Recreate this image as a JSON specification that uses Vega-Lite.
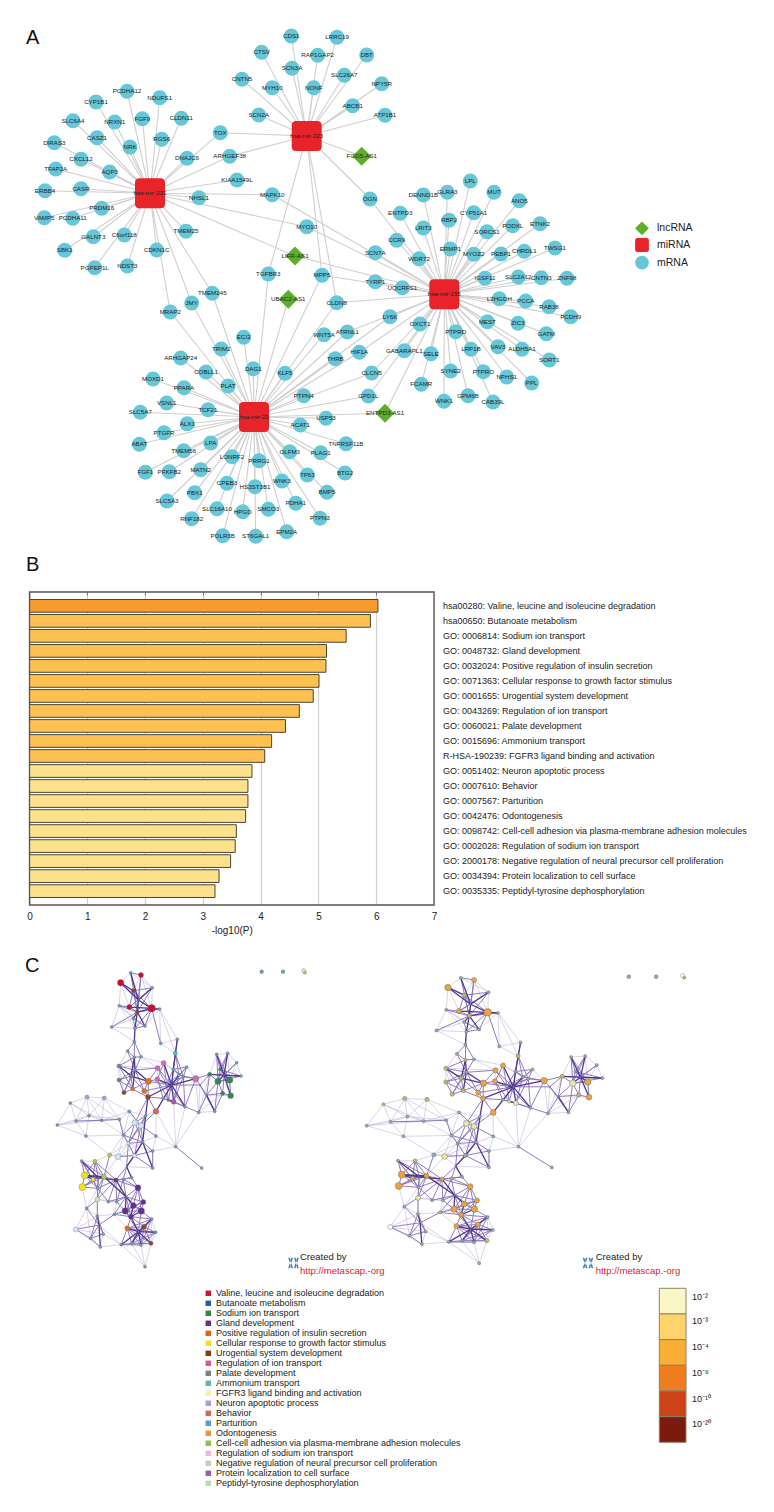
{
"$schema":"https://vega.github.io/schema/vega-lite/v6.json",
"padding":0,
"background":"white",
"bounds":"flush",
"spacing":0,
"config":{"view":{"stroke":null},"concat":{"spacing":0}},
"resolve":{"scale":{"color":"independent","size":"independent","shape":"independent","strokeWidth":"independent"}},
"datasets":{
"nodes":[
{"name":"hsa-mir-223","code":"223","x":306.7,"y":136,"type":"miRNA","h":[]},
{"name":"hsa-mir-221","code":"221","x":150,"y":193.3,"type":"miRNA","h":[]},
{"name":"hsa-mir-155","code":"155","x":444.3,"y":294.3,"type":"miRNA","h":[]},
{"name":"hsa-mir-21","code":"21","x":254,"y":417,"type":"miRNA","h":[]},
{"name":"FGD5-AS1","x":361.7,"y":156.3,"type":"lncRNA","h":["223"]},
{"name":"LIFR-AS1","x":295,"y":256,"type":"lncRNA","h":["221","155"]},
{"name":"UBAC2-AS1","x":288.3,"y":299.3,"type":"lncRNA","h":["21"]},
{"name":"ENTPD3-AS1","x":385,"y":413.3,"type":"lncRNA","h":["155","21"]},
{"name":"CDS1","x":291.3,"y":36,"type":"mRNA","h":["223"]},
{"name":"LRRC19","x":337,"y":37.3,"type":"mRNA","h":["223"]},
{"name":"CTSV","x":261.7,"y":52.3,"type":"mRNA","h":["223"]},
{"name":"RAP1GAP2","x":317.7,"y":55.3,"type":"mRNA","h":["223"]},
{"name":"DBT","x":366.7,"y":55,"type":"mRNA","h":["223"]},
{"name":"SCN3A","x":292,"y":68.3,"type":"mRNA","h":["223"]},
{"name":"SLC26A7","x":344.3,"y":75.3,"type":"mRNA","h":["223"]},
{"name":"NPY5R","x":381.7,"y":83.7,"type":"mRNA","h":["223"]},
{"name":"CNTN5","x":242,"y":79.3,"type":"mRNA","h":["223"]},
{"name":"MYH10","x":272.3,"y":87.7,"type":"mRNA","h":["223"]},
{"name":"NONF","x":313.7,"y":87.7,"type":"mRNA","h":["223"]},
{"name":"ABCB1","x":352.7,"y":105.7,"type":"mRNA","h":["223"]},
{"name":"ATP1B1","x":385,"y":115.3,"type":"mRNA","h":["223"]},
{"name":"SCN2A","x":258.7,"y":115,"type":"mRNA","h":["223"]},
{"name":"TOX","x":220.3,"y":132.7,"type":"mRNA","h":["223","221"]},
{"name":"ARHGEF38","x":229.7,"y":156.3,"type":"mRNA","h":["223","221"]},
{"name":"KIAA1549L","x":237,"y":180,"type":"mRNA","h":["221"]},
{"name":"OGN","x":370,"y":199,"type":"mRNA","h":["223","155"]},
{"name":"MAPK10","x":272.3,"y":194.7,"type":"mRNA","h":["221","155"]},
{"name":"NHSL1","x":199,"y":197.7,"type":"mRNA","h":["221"]},
{"name":"MYO10","x":306.7,"y":226.7,"type":"mRNA","h":["221","155"]},
{"name":"TGFBR3","x":268.3,"y":274,"type":"mRNA","h":["223","21"]},
{"name":"MPP5","x":322,"y":275.3,"type":"mRNA","h":["223","155","21"]},
{"name":"CLDN8","x":336.7,"y":302.7,"type":"mRNA","h":["223","155","21"]},
{"name":"SCN7A","x":375.3,"y":252.7,"type":"mRNA","h":["155"]},
{"name":"TYRP1","x":375.3,"y":281.7,"type":"mRNA","h":["155"]},
{"name":"PCDHA12","x":127,"y":91.3,"type":"mRNA","h":["221"]},
{"name":"NDUFS1","x":159.7,"y":97.7,"type":"mRNA","h":["221"]},
{"name":"CYP1B1","x":96,"y":102,"type":"mRNA","h":["221"]},
{"name":"FGF9","x":142.3,"y":118.7,"type":"mRNA","h":["221"]},
{"name":"CLDN11","x":181.3,"y":118.3,"type":"mRNA","h":["221"]},
{"name":"SLC6A4","x":73,"y":120.7,"type":"mRNA","h":["221"]},
{"name":"NRXN1","x":114.7,"y":122,"type":"mRNA","h":["221"]},
{"name":"CASZ1","x":97,"y":137.7,"type":"mRNA","h":["221"]},
{"name":"RGS6","x":161.7,"y":139.3,"type":"mRNA","h":["221"]},
{"name":"DIRAS3","x":54.3,"y":142.7,"type":"mRNA","h":["221"]},
{"name":"NRK","x":130,"y":147,"type":"mRNA","h":["221"]},
{"name":"DNAJC6","x":187,"y":158.3,"type":"mRNA","h":["221"]},
{"name":"CXCL12","x":81,"y":159.3,"type":"mRNA","h":["221"]},
{"name":"TFAP2A","x":55.7,"y":169,"type":"mRNA","h":["221"]},
{"name":"AQP3","x":109.7,"y":172,"type":"mRNA","h":["221"]},
{"name":"CASR","x":81,"y":188.7,"type":"mRNA","h":["221"]},
{"name":"ERBB4","x":45,"y":190.7,"type":"mRNA","h":["221"]},
{"name":"PRDM16","x":101.7,"y":208.3,"type":"mRNA","h":["221"]},
{"name":"VAMP5","x":44.3,"y":217.7,"type":"mRNA","h":["221"]},
{"name":"PCDHA11","x":72.7,"y":218.3,"type":"mRNA","h":["221"]},
{"name":"GALNT3","x":93.3,"y":236.7,"type":"mRNA","h":["221"]},
{"name":"C6orf118","x":124.3,"y":235,"type":"mRNA","h":["221"]},
{"name":"TMEM25","x":186,"y":231.3,"type":"mRNA","h":["221"]},
{"name":"CDKN1C","x":156.7,"y":250,"type":"mRNA","h":["221"]},
{"name":"SBK1","x":64.7,"y":250.3,"type":"mRNA","h":["221"]},
{"name":"PGPEP1L","x":94.7,"y":267.7,"type":"mRNA","h":["221"]},
{"name":"NDST3","x":127.3,"y":266,"type":"mRNA","h":["221"]},
{"name":"TMEM245","x":212.3,"y":293.3,"type":"mRNA","h":["221","21"]},
{"name":"JMY","x":191.7,"y":303,"type":"mRNA","h":["221","21"]},
{"name":"MRAP2","x":170.3,"y":312,"type":"mRNA","h":["221","21"]},
{"name":"LPL","x":470.3,"y":181,"type":"mRNA","h":["155"]},
{"name":"MUT","x":494,"y":192.3,"type":"mRNA","h":["155"]},
{"name":"GLRA3","x":447.3,"y":192.3,"type":"mRNA","h":["155"]},
{"name":"DENND1B","x":423.3,"y":195,"type":"mRNA","h":["155"]},
{"name":"ANO5","x":519.3,"y":200.7,"type":"mRNA","h":["155"]},
{"name":"ENTPD3","x":400.3,"y":213.3,"type":"mRNA","h":["155"]},
{"name":"CYP51A1","x":473.7,"y":212.7,"type":"mRNA","h":["155"]},
{"name":"RBP2","x":449,"y":220.3,"type":"mRNA","h":["155"]},
{"name":"ETNK2","x":540,"y":223.7,"type":"mRNA","h":["155"]},
{"name":"PODXL","x":512.7,"y":225.7,"type":"mRNA","h":["155"]},
{"name":"LRIT3","x":423.3,"y":228,"type":"mRNA","h":["155"]},
{"name":"SORCS1","x":487,"y":231.7,"type":"mRNA","h":["155"]},
{"name":"CCR9","x":396.7,"y":240.3,"type":"mRNA","h":["155"]},
{"name":"TWSG1","x":555,"y":248,"type":"mRNA","h":["155"]},
{"name":"ERMP1","x":450.3,"y":249,"type":"mRNA","h":["155"]},
{"name":"CHRDL1","x":524.3,"y":251.3,"type":"mRNA","h":["155"]},
{"name":"PEBP1","x":501,"y":254,"type":"mRNA","h":["155"]},
{"name":"MYOZ2","x":473.7,"y":254.3,"type":"mRNA","h":["155"]},
{"name":"WDR72","x":419,"y":258.7,"type":"mRNA","h":["155"]},
{"name":"IGSF11","x":485,"y":278.3,"type":"mRNA","h":["155"]},
{"name":"SLC2A12","x":518.3,"y":277,"type":"mRNA","h":["155"]},
{"name":"CNTN3","x":541.3,"y":277.7,"type":"mRNA","h":["155"]},
{"name":"ZNF98","x":567,"y":278.3,"type":"mRNA","h":["155"]},
{"name":"UQCRFS1","x":402.3,"y":287.7,"type":"mRNA","h":["155"]},
{"name":"L2HGDH","x":499.3,"y":298.7,"type":"mRNA","h":["155"]},
{"name":"PCCA","x":525.7,"y":301,"type":"mRNA","h":["155"]},
{"name":"RAB38","x":549,"y":306.7,"type":"mRNA","h":["155"]},
{"name":"PCDH9","x":570.7,"y":316.7,"type":"mRNA","h":["155"]},
{"name":"MEST","x":487.3,"y":321.7,"type":"mRNA","h":["155"]},
{"name":"ZIC3","x":518,"y":323.3,"type":"mRNA","h":["155"]},
{"name":"GATM","x":546.3,"y":333.7,"type":"mRNA","h":["155"]},
{"name":"LY6K","x":390,"y":316.7,"type":"mRNA","h":["155","21"]},
{"name":"OXCT1","x":420,"y":324,"type":"mRNA","h":["155"]},
{"name":"PTPRD","x":455.7,"y":331.7,"type":"mRNA","h":["155"]},
{"name":"ATRNL1","x":347.3,"y":332,"type":"mRNA","h":["155","21"]},
{"name":"ALDH5A1","x":522,"y":349.3,"type":"mRNA","h":["155"]},
{"name":"VAV3","x":498,"y":346.7,"type":"mRNA","h":["155"]},
{"name":"LRP1B","x":471,"y":349.3,"type":"mRNA","h":["155"]},
{"name":"SORT1","x":549.3,"y":360,"type":"mRNA","h":["155"]},
{"name":"HIF1A","x":359.3,"y":352.3,"type":"mRNA","h":["155","21"]},
{"name":"GABARAPL1","x":404.3,"y":350.7,"type":"mRNA","h":["155"]},
{"name":"SELE","x":431,"y":353.7,"type":"mRNA","h":["155"]},
{"name":"SYNE2","x":450.7,"y":371,"type":"mRNA","h":["155"]},
{"name":"PTPRO","x":483.3,"y":371.7,"type":"mRNA","h":["155"]},
{"name":"NPHS1","x":506.7,"y":377,"type":"mRNA","h":["155"]},
{"name":"PPL","x":531.7,"y":383,"type":"mRNA","h":["155"]},
{"name":"CLCN5","x":371.7,"y":373,"type":"mRNA","h":["155","21"]},
{"name":"FCAMR","x":421.3,"y":384.3,"type":"mRNA","h":["155"]},
{"name":"GPD1L","x":368.3,"y":396,"type":"mRNA","h":["155","21"]},
{"name":"GPM6B","x":468,"y":395.7,"type":"mRNA","h":["155"]},
{"name":"WNK1","x":444,"y":401.3,"type":"mRNA","h":["155"]},
{"name":"CAB39L","x":493,"y":402,"type":"mRNA","h":["155"]},
{"name":"WNT5A","x":324,"y":334.7,"type":"mRNA","h":["21"]},
{"name":"THRB","x":335.3,"y":358.7,"type":"mRNA","h":["21"]},
{"name":"KLF5","x":285,"y":373.3,"type":"mRNA","h":["21"]},
{"name":"ECI2","x":243.7,"y":337.3,"type":"mRNA","h":["21"]},
{"name":"TRIM2","x":221.3,"y":349,"type":"mRNA","h":["21"]},
{"name":"ARHGAP24","x":180.7,"y":358,"type":"mRNA","h":["21"]},
{"name":"DAG1","x":253.3,"y":368.7,"type":"mRNA","h":["21"]},
{"name":"COBLL1","x":206,"y":372,"type":"mRNA","h":["21"]},
{"name":"MOXD1","x":153,"y":379,"type":"mRNA","h":["21"]},
{"name":"PPARA","x":184,"y":387.7,"type":"mRNA","h":["21"]},
{"name":"PLAT","x":228,"y":386,"type":"mRNA","h":["21"]},
{"name":"PTPN4","x":303.7,"y":395.7,"type":"mRNA","h":["21"]},
{"name":"VSNL1","x":166.7,"y":403,"type":"mRNA","h":["21"]},
{"name":"TCF21","x":208,"y":409.7,"type":"mRNA","h":["21"]},
{"name":"SLC5A7","x":140.3,"y":412.3,"type":"mRNA","h":["21"]},
{"name":"ALX1","x":187.3,"y":423.7,"type":"mRNA","h":["21"]},
{"name":"USP53","x":326,"y":418.3,"type":"mRNA","h":["21"]},
{"name":"ACAT1","x":300.3,"y":425,"type":"mRNA","h":["21"]},
{"name":"PTGFR","x":164,"y":432.7,"type":"mRNA","h":["21"]},
{"name":"ABAT","x":139.3,"y":444.3,"type":"mRNA","h":["21"]},
{"name":"LPA","x":210.7,"y":443,"type":"mRNA","h":["21"]},
{"name":"TNFRSF11B","x":346,"y":443.7,"type":"mRNA","h":["21"]},
{"name":"TMEM56","x":183.7,"y":450.7,"type":"mRNA","h":["21"]},
{"name":"OLFM3","x":289.7,"y":451.7,"type":"mRNA","h":["21"]},
{"name":"PLAG1","x":320.7,"y":452.7,"type":"mRNA","h":["21"]},
{"name":"LONRF2","x":232,"y":456.7,"type":"mRNA","h":["21"]},
{"name":"PRRG1","x":259,"y":460.7,"type":"mRNA","h":["21"]},
{"name":"FGF1","x":145.3,"y":472.3,"type":"mRNA","h":["21"]},
{"name":"PFKFB2","x":169.3,"y":471.7,"type":"mRNA","h":["21"]},
{"name":"MATN2","x":200.7,"y":469.7,"type":"mRNA","h":["21"]},
{"name":"TP63","x":307.3,"y":475,"type":"mRNA","h":["21"]},
{"name":"BTG2","x":345,"y":473,"type":"mRNA","h":["21"]},
{"name":"WNK3","x":282,"y":481,"type":"mRNA","h":["21"]},
{"name":"CPEB3","x":227,"y":483.3,"type":"mRNA","h":["21"]},
{"name":"HS3ST3B1","x":255,"y":486.7,"type":"mRNA","h":["21"]},
{"name":"PBX1","x":194.7,"y":492.7,"type":"mRNA","h":["21"]},
{"name":"BMP5","x":327,"y":492.3,"type":"mRNA","h":["21"]},
{"name":"SLC5A3","x":167,"y":501,"type":"mRNA","h":["21"]},
{"name":"PDHA1","x":295.7,"y":503.3,"type":"mRNA","h":["21"]},
{"name":"SLC16A10","x":217,"y":508.7,"type":"mRNA","h":["21"]},
{"name":"SMCO3","x":268.3,"y":509.3,"type":"mRNA","h":["21"]},
{"name":"HPGD","x":242.7,"y":511.7,"type":"mRNA","h":["21"]},
{"name":"RNF182","x":191.7,"y":518.7,"type":"mRNA","h":["21"]},
{"name":"PTPN3","x":320,"y":518.3,"type":"mRNA","h":["21"]},
{"name":"EPM2A","x":286.7,"y":531.7,"type":"mRNA","h":["21"]},
{"name":"POLR3B","x":222.7,"y":535.7,"type":"mRNA","h":["21"]},
{"name":"ST6GAL1","x":255.7,"y":536.3,"type":"mRNA","h":["21"]}
],
"keyA":[
{"type":"lncRNA","x":642,"y":228.3},
{"type":"miRNA","x":642,"y":245},
{"type":"mRNA","x":642,"y":262.7}
],
"letters":[
{"label":"A","x":32.7,"y":38.3},
{"label":"B","x":32.7,"y":565}
],
"terms":[
{"term":"hsa00280: Valine, leucine and isoleucine degradation","logp":6.03,"cls":"1e-6"},
{"term":"hsa00650: Butanoate metabolism","logp":5.9,"cls":"1e-4"},
{"term":"GO: 0006814: Sodium ion transport","logp":5.48,"cls":"1e-4"},
{"term":"GO: 0048732: Gland development","logp":5.14,"cls":"1e-4"},
{"term":"GO: 0032024: Positive regulation of insulin secretion","logp":5.13,"cls":"1e-4"},
{"term":"GO: 0071363: Cellular response to growth factor stimulus","logp":5.01,"cls":"1e-4"},
{"term":"GO: 0001655: Urogential system development","logp":4.91,"cls":"1e-4"},
{"term":"GO: 0043269: Regulation of ion transport","logp":4.67,"cls":"1e-4"},
{"term":"GO: 0060021: Palate development","logp":4.43,"cls":"1e-4"},
{"term":"GO: 0015696: Ammonium transport","logp":4.19,"cls":"1e-4"},
{"term":"R-HSA-190239: FGFR3 ligand binding and activation","logp":4.07,"cls":"1e-4"},
{"term":"GO: 0051402: Neuron apoptotic process","logp":3.85,"cls":"1e-3"},
{"term":"GO: 0007610: Behavior","logp":3.78,"cls":"1e-3"},
{"term":"GO: 0007567: Parturition","logp":3.78,"cls":"1e-3"},
{"term":"GO: 0042476: Odontogenesis","logp":3.74,"cls":"1e-3"},
{"term":"GO: 0098742: Cell-cell adhesion via plasma-membrane adhesion molecules","logp":3.58,"cls":"1e-3"},
{"term":"GO: 0002028: Regulation of sodium ion transport","logp":3.56,"cls":"1e-3"},
{"term":"GO: 2000178: Negative regulation of neural precursor cell proliferation","logp":3.48,"cls":"1e-3"},
{"term":"GO: 0034394: Protein localization to cell surface","logp":3.28,"cls":"1e-3"},
{"term":"GO: 0035335: Peptidyl-tyrosine dephosphorylation","logp":3.21,"cls":"1e-3"}
],
"cnodes":[
{"id":"t1","x":332,"y":68,"n":1,"cat":"o","cls":"o"},
{"id":"t2","x":363,"y":75,"n":2,"cat":"val","cls":"s"},
{"id":"t3","x":302,"y":98,"n":3,"cat":"val","cls":"s"},
{"id":"t4","x":397,"y":113,"n":1,"cat":"o","cls":"o"},
{"id":"t5","x":340,"y":122,"n":1.5,"cat":"uro","cls":"m"},
{"id":"t6","x":395,"y":175,"n":4,"cat":"val","cls":"s"},
{"id":"t7","x":328,"y":171,"n":2,"cat":"val","cls":"s"},
{"id":"t8","x":298,"y":167,"n":1,"cat":"o","cls":"o"},
{"id":"t9","x":419,"y":177,"n":1,"cat":"o","cls":"o"},
{"id":"t10","x":352,"y":186,"n":1.5,"cat":"uro","cls":"m"},
{"id":"t11","x":340,"y":205,"n":1,"cat":"o","cls":"o"},
{"id":"t12","x":275,"y":231,"n":1,"cat":"o","cls":"o"},
{"id":"t13","x":345,"y":235,"n":1,"cat":"o","cls":"o"},
{"id":"t14","x":375,"y":228,"n":1,"cat":"o","cls":"o"},
{"id":"t15","x":355,"y":150,"n":0.5,"cat":"o","cls":"o"},
{"id":"m1","x":343,"y":275,"n":1,"cat":"o","cls":"o"},
{"id":"m2","x":323,"y":303,"n":1,"cat":"o","cls":"o"},
{"id":"m3","x":363,"y":320,"n":1,"cat":"o","cls":"o"},
{"id":"m4","x":343,"y":322,"n":1,"cat":"o","cls":"m"},
{"id":"m5","x":297,"y":348,"n":1.5,"cat":"pal","cls":"m"},
{"id":"m6","x":297,"y":390,"n":1.5,"cat":"pal","cls":"m"},
{"id":"m7","x":333,"y":378,"n":1.5,"cat":"pal","cls":"m"},
{"id":"m8","x":345,"y":360,"n":1,"cat":"o","cls":"o"},
{"id":"m9","x":312,"y":428,"n":1.5,"cat":"uro","cls":"m"},
{"id":"m10","x":338,"y":417,"n":1.5,"cat":"pos","cls":"m"},
{"id":"m11","x":385,"y":394,"n":3,"cat":"pos","cls":"s"},
{"id":"m12","x":373,"y":423,"n":2,"cat":"pos","cls":"s"},
{"id":"m13","x":384,"y":441,"n":2,"cat":"uro","cls":"s"},
{"id":"m14","x":408,"y":484,"n":2.5,"cat":"beh","cls":"s"},
{"id":"c0","x":455,"y":405,"n":0.5,"cat":"o","cls":"o"},
{"id":"c1","x":431,"y":339,"n":2,"cat":"reg","cls":"s"},
{"id":"c2","x":413,"y":354,"n":2,"cat":"reg","cls":"s"},
{"id":"c3","x":412,"y":388,"n":2,"cat":"reg","cls":"s"},
{"id":"c4","x":500,"y":351,"n":1,"cat":"o","cls":"m"},
{"id":"c5","x":527,"y":386,"n":3,"cat":"reg","cls":"s"},
{"id":"c6","x":460,"y":358,"n":1,"cat":"o","cls":"o"},
{"id":"c7","x":466,"y":310,"n":1.5,"cat":"amm","cls":"m"},
{"id":"c8","x":422,"y":280,"n":1,"cat":"o","cls":"o"},
{"id":"c9","x":472,"y":268,"n":1,"cat":"o","cls":"o"},
{"id":"c10","x":440,"y":403,"n":1,"cat":"o","cls":"o"},
{"id":"c11","x":461,"y":455,"n":2,"cat":"pro","cls":"p"},
{"id":"c12","x":445,"y":450,"n":1,"cat":"pro","cls":"p"},
{"id":"c13","x":495,"y":470,"n":1,"cat":"o","cls":"o"},
{"id":"c14","x":477,"y":375,"n":1,"cat":"amm","cls":"o"},
{"id":"c15","x":430,"y":445,"n":1,"cat":"o","cls":"o"},
{"id":"c16","x":490,"y":380,"n":1,"cat":"o","cls":"o"},
{"id":"r0","x":612,"y":375,"n":0.5,"cat":"o","cls":"o"},
{"id":"r1","x":590,"y":313,"n":1,"cat":"o","cls":"o"},
{"id":"r2","x":623,"y":310,"n":1,"cat":"o","cls":"o"},
{"id":"r3","x":650,"y":338,"n":1,"cat":"o","cls":"o"},
{"id":"r4","x":663,"y":378,"n":1,"cat":"o","cls":"o"},
{"id":"r5","x":569,"y":373,"n":1.5,"cat":"sod","cls":"m"},
{"id":"r6","x":600,"y":358,"n":1,"cat":"sod","cls":"o"},
{"id":"r7","x":594,"y":394,"n":3,"cat":"sod","cls":"p"},
{"id":"r8","x":629,"y":390,"n":3,"cat":"sod","cls":"s"},
{"id":"r9","x":632,"y":437,"n":2.5,"cat":"sod","cls":"s"},
{"id":"r10","x":608,"y":430,"n":1.5,"cat":"sod","cls":"m"},
{"id":"r11","x":584,"y":484,"n":1,"cat":"o","cls":"o"},
{"id":"r12","x":536,"y":487,"n":1,"cat":"o","cls":"o"},
{"id":"r13","x":560,"y":435,"n":0.5,"cat":"o","cls":"o"},
{"id":"r14","x":540,"y":405,"n":0.5,"cat":"o","cls":"o"},
{"id":"l1","x":151,"y":459,"n":1,"cat":"o","cls":"m"},
{"id":"l2","x":201,"y":441,"n":1.5,"cat":"neu","cls":"m"},
{"id":"l3","x":253,"y":444,"n":1.5,"cat":"neu","cls":"m"},
{"id":"l4","x":112,"y":525,"n":1,"cat":"o","cls":"o"},
{"id":"l5","x":168,"y":513,"n":1,"cat":"o","cls":"o"},
{"id":"l6","x":207,"y":497,"n":1,"cat":"o","cls":"o"},
{"id":"l7","x":245,"y":511,"n":1,"cat":"o","cls":"o"},
{"id":"l8","x":198,"y":558,"n":1,"cat":"o","cls":"o"},
{"id":"l9","x":298,"y":508,"n":1,"cat":"o","cls":"o"},
{"id":"s1","x":328,"y":484,"n":1,"cat":"o","cls":"o"},
{"id":"s2","x":345,"y":518,"n":2.5,"cat":"pb","cls":"p"},
{"id":"s3","x":363,"y":527,"n":2.5,"cat":"pb","cls":"p"},
{"id":"s4","x":377,"y":497,"n":1,"cat":"o","cls":"o"},
{"id":"s5","x":408,"y":558,"n":1,"cat":"o","cls":"o"},
{"id":"s6","x":310,"y":555,"n":1,"cat":"o","cls":"o"},
{"id":"s7","x":325,"y":580,"n":1,"cat":"pb","cls":"o"},
{"id":"s8","x":368,"y":576,"n":1,"cat":"o","cls":"o"},
{"id":"s9","x":343,"y":617,"n":1.5,"cat":"pb","cls":"o"},
{"id":"s10","x":294,"y":620,"n":2.5,"cat":"pb","cls":"p"},
{"id":"s11","x":269,"y":615,"n":1.5,"cat":"cc","cls":"o"},
{"id":"s12","x":398,"y":654,"n":1,"cat":"o","cls":"o"},
{"id":"s13","x":398,"y":603,"n":1,"cat":"o","cls":"o"},
{"id":"s14","x":467,"y":590,"n":1,"cat":"o","cls":"o"},
{"id":"s15","x":545,"y":654,"n":1,"cat":"o","cls":"o"},
{"id":"s16","x":320,"y":650,"n":0.5,"cat":"o","cls":"o"},
{"id":"a0","x":235,"y":683,"n":0.5,"cat":"o","cls":"o"},
{"id":"a1","x":185,"y":633,"n":1,"cat":"o","cls":"o"},
{"id":"a2","x":225,"y":634,"n":1.5,"cat":"cc","cls":"m"},
{"id":"a3","x":194,"y":676,"n":3.5,"cat":"cel","cls":"s"},
{"id":"a4","x":187,"y":711,"n":3.5,"cat":"cel","cls":"s"},
{"id":"a5","x":219,"y":688,"n":1.5,"cat":"cel","cls":"m"},
{"id":"a6","x":252,"y":680,"n":2,"cat":"cc","cls":"s"},
{"id":"a7","x":288,"y":690,"n":1.5,"cat":"gla","cls":"s"},
{"id":"a8","x":233,"y":715,"n":1,"cat":"o","cls":"o"},
{"id":"a9","x":232,"y":748,"n":2,"cat":"pep","cls":"p"},
{"id":"a10","x":310,"y":688,"n":1,"cat":"o","cls":"m"},
{"id":"a11","x":265,"y":755,"n":1,"cat":"o","cls":"o"},
{"id":"a12","x":290,"y":755,"n":1,"cat":"o","cls":"o"},
{"id":"a13","x":335,"y":683,"n":1,"cat":"o","cls":"o"},
{"id":"p1","x":354,"y":713,"n":2.5,"cat":"gla","cls":"s"},
{"id":"p2","x":318,"y":740,"n":0.5,"cat":"o","cls":"o"},
{"id":"p3","x":370,"y":756,"n":2,"cat":"gla","cls":"s"},
{"id":"p4","x":340,"y":767,"n":2.5,"cat":"gla","cls":"s"},
{"id":"p5","x":316,"y":783,"n":3,"cat":"gla","cls":"s"},
{"id":"p6","x":364,"y":783,"n":3,"cat":"gla","cls":"s"},
{"id":"p7","x":333,"y":800,"n":2,"cat":"gla","cls":"s"},
{"id":"p8","x":283,"y":793,"n":1,"cat":"o","cls":"m"},
{"id":"p9","x":200,"y":775,"n":1,"cat":"o","cls":"o"},
{"id":"p10","x":232,"y":798,"n":1,"cat":"o","cls":"o"},
{"id":"b1","x":167,"y":838,"n":2,"cat":"pb","cls":"w"},
{"id":"b2","x":237,"y":825,"n":0.5,"cat":"o","cls":"o"},
{"id":"b3","x":250,"y":852,"n":1,"cat":"o","cls":"o"},
{"id":"b4","x":212,"y":865,"n":1,"cat":"o","cls":"o"},
{"id":"b5","x":241,"y":891,"n":1,"cat":"o","cls":"o"},
{"id":"b6","x":304,"y":884,"n":1,"cat":"o","cls":"o"},
{"id":"d0","x":355,"y":845,"n":0.5,"cat":"o","cls":"o"},
{"id":"d1","x":322,"y":835,"n":2,"cat":"pos","cls":"s"},
{"id":"d2","x":372,"y":830,"n":2,"cat":"uro","cls":"s"},
{"id":"d3","x":395,"y":807,"n":1,"cat":"o","cls":"o"},
{"id":"d4","x":407,"y":847,"n":1,"cat":"o","cls":"o"},
{"id":"d5","x":393,"y":880,"n":1.5,"cat":"uro","cls":"m"},
{"id":"d6","x":363,"y":885,"n":1,"cat":"o","cls":"o"},
{"id":"d7","x":335,"y":880,"n":1,"cat":"o","cls":"o"},
{"id":"d8","x":375,"y":950,"n":1,"cat":"o","cls":"o"},
{"id":"i1","x":725,"y":65,"n":1.3,"cat":"o","cls":"o"},
{"id":"i2","x":789,"y":65,"n":1.3,"cat":"o","cls":"o"},
{"id":"i3","x":851,"y":62,"n":1.5,"cat":"pb","cls":"w"},
{"id":"i4","x":855,"y":68,"n":1,"cat":"cc","cls":"m"}
],
"cedges":[
{"a":"t1","b":"t4","w":1},{"a":"t2","b":"t4","w":1},{"a":"t1","b":"t3","w":1},{"a":"t8","b":"t12","w":1},{"a":"t12","b":"t13","w":1},{"a":"t8","b":"t13","w":1},{"a":"t12","b":"m1","w":1},{"a":"t14","b":"t9","w":1},{"a":"t9","b":"c8","w":1},{"a":"c8","b":"c9","w":1},{"a":"c8","b":"c7","w":1},{"a":"t2","b":"t6","w":1},{"a":"t4","b":"t6","w":1},{"a":"t3","b":"t8","w":1},
{"a":"t1","b":"t5","w":1},{"a":"t2","b":"t5","w":1},{"a":"t3","b":"t7","w":1},{"a":"t8","b":"t11","w":1},{"a":"t12","b":"t11","w":1},{"a":"t8","b":"t14","w":1},{"a":"t9","b":"c9","w":1},{"a":"t9","b":"c7","w":1},
{"a":"m5","b":"c2","w":1},{"a":"m3","b":"c2","w":1},{"a":"c2","b":"c1","w":1},{"a":"c1","b":"c6","w":1},{"a":"c2","b":"c3","w":1},{"a":"s4","b":"m14","w":1},{"a":"c5","b":"r12","w":1},{"a":"m5","b":"m6","w":1},{"a":"m5","b":"m9","w":1},{"a":"m2","b":"m5","w":1},{"a":"m3","b":"c1","w":1},{"a":"c1","b":"c14","w":1},{"a":"c4","b":"c5","w":1},
{"a":"r1","b":"r2","w":1},{"a":"r2","b":"r3","w":1},{"a":"r3","b":"r4","w":1},{"a":"r11","b":"r12","w":1},{"a":"r1","b":"r5","w":1},{"a":"r2","b":"r9","w":1},{"a":"r3","b":"r8","w":1},{"a":"r10","b":"r12","w":1},{"a":"r5","b":"r12","w":1},{"a":"r14","b":"r12","w":1},{"a":"r9","b":"r13","w":1},
{"a":"m14","b":"s5","w":1},{"a":"s5","b":"s14","w":1},{"a":"c11","b":"s14","w":1},{"a":"r12","b":"s14","w":1},{"a":"c13","b":"s14","w":1},{"a":"s14","b":"s13","w":1},{"a":"s13","b":"s12","w":1},{"a":"m14","b":"s14","w":1},
{"a":"l1","b":"l2","w":1},{"a":"l2","b":"l3","w":1},{"a":"l1","b":"l4","w":1},{"a":"l4","b":"l5","w":1},{"a":"l1","b":"l5","w":1},{"a":"l1","b":"l6","w":1},{"a":"l2","b":"l5","w":1},{"a":"l2","b":"l6","w":1},{"a":"l2","b":"l7","w":1},{"a":"l3","b":"l6","w":1},{"a":"l3","b":"l7","w":1},{"a":"l3","b":"l9","w":1},{"a":"l4","b":"l8","w":1},{"a":"l5","b":"l8","w":1},{"a":"l6","b":"l8","w":1},{"a":"l5","b":"l6","w":1},{"a":"l6","b":"l7","w":1},{"a":"l9","b":"s1","w":1},{"a":"l8","b":"s11","w":1},{"a":"l7","b":"s6","w":1},{"a":"l3","b":"s1","w":1},{"a":"s1","b":"s2","w":1},{"a":"s1","b":"s4","w":1},{"a":"s5","b":"s8","w":1},{"a":"s6","b":"s10","w":1},{"a":"s7","b":"s10","w":1},{"a":"s7","b":"s11","w":1},{"a":"s11","b":"s10","w":1},{"a":"s10","b":"a6","w":1},{"a":"s11","b":"a2","w":1},
{"a":"l1","b":"l7","w":1},{"a":"l2","b":"l9","w":1},{"a":"l4","b":"l6","w":1},{"a":"l4","b":"l7","w":1},{"a":"l6","b":"l9","w":1},{"a":"l5","b":"l9","w":1},{"a":"l8","b":"s6","w":1},{"a":"l9","b":"s7","w":1},{"a":"s1","b":"s6","w":1},{"a":"l7","b":"s1","w":1},{"a":"s6","b":"s9","w":1},{"a":"s10","b":"s8","w":1},{"a":"s7","b":"s13","w":1},{"a":"s10","b":"s16","w":1},{"a":"s11","b":"s9","w":1},{"a":"s12","b":"s16","w":1},{"a":"s5","b":"s13","w":1},{"a":"s6","b":"s11","w":1},
{"a":"a8","b":"a9","w":1},{"a":"a9","b":"a11","w":1},{"a":"a4","b":"p9","w":1},{"a":"a11","b":"a12","w":1},{"a":"a12","b":"p8","w":1},{"a":"p8","b":"p10","w":1},{"a":"b1","b":"p9","w":1},{"a":"b3","b":"b5","w":1},{"a":"b3","b":"b6","w":1},{"a":"b5","b":"b6","w":1},{"a":"b1","b":"b3","w":1},{"a":"a1","b":"a2","w":1},{"a":"a9","b":"a12","w":1},{"a":"p8","b":"p4","w":1},{"a":"p9","b":"a8","w":1},{"a":"p9","b":"p10","w":1},{"a":"p10","b":"a8","w":1},{"a":"b1","b":"b5","w":1},{"a":"b2","b":"b6","w":1},{"a":"b1","b":"p10","w":1},{"a":"b4","b":"p9","w":1},
{"a":"d3","b":"d4","w":1},{"a":"d4","b":"d5","w":1},{"a":"d5","b":"d6","w":1},{"a":"d6","b":"d8","w":1},{"a":"d7","b":"d8","w":1},{"a":"d5","b":"d8","w":1},{"a":"b6","b":"d8","w":1},{"a":"d3","b":"d5","w":1},{"a":"d6","b":"d7","w":1},{"a":"b6","b":"d5","w":1},{"a":"p8","b":"d1","w":1},
{"a":"t15","b":"t2","w":2},{"a":"t15","b":"t5","w":2},{"a":"t15","b":"t7","w":2},{"a":"t10","b":"t7","w":2},{"a":"t10","b":"t8","w":2},{"a":"t10","b":"t12","w":2},{"a":"t10","b":"t9","w":2},{"a":"t10","b":"t5","w":2},{"a":"t4","b":"t5","w":2},{"a":"t1","b":"t2","w":2},{"a":"t13","b":"t14","w":2},{"a":"t8","b":"t7","w":2},{"a":"t6","b":"c8","w":2},{"a":"c9","b":"c7","w":2},{"a":"c7","b":"c6","w":2},
{"a":"t4","b":"t10","w":2},{"a":"t4","b":"t7","w":2},{"a":"t5","b":"t6","w":2},{"a":"t5","b":"t7","w":2},{"a":"t2","b":"t10","w":2},{"a":"t11","b":"t13","w":2},{"a":"t11","b":"t14","w":2},{"a":"t14","b":"t6","w":2},{"a":"t1","b":"t10","w":2},{"a":"t13","b":"t6","w":2},
{"a":"m1","b":"m2","w":2},{"a":"m1","b":"m3","w":2},{"a":"m2","b":"m4","w":2},{"a":"m3","b":"m4","w":2},{"a":"m1","b":"m4","w":2},{"a":"m5","b":"m8","w":2},{"a":"m6","b":"m7","w":2},{"a":"m6","b":"m10","w":2},{"a":"m7","b":"m9","w":2},{"a":"m9","b":"m10","w":2},{"a":"m11","b":"m12","w":2},{"a":"m11","b":"m13","w":2},{"a":"m8","b":"c2","w":2},{"a":"m11","b":"c3","w":2},{"a":"m8","b":"m7","w":2},{"a":"m12","b":"m13","w":2},{"a":"m12","b":"c0","w":2},{"a":"m11","b":"c0","w":2},{"a":"m13","b":"m14","w":2},
{"a":"m6","b":"m8","w":2},{"a":"m6","b":"m9","w":2},{"a":"m5","b":"m10","w":2},{"a":"m7","b":"m10","w":2},{"a":"m8","b":"m9","w":2},{"a":"m3","b":"m8","w":2},{"a":"m2","b":"m8","w":2},{"a":"m5","b":"m4","w":2},{"a":"m7","b":"m12","w":2},{"a":"m8","b":"m12","w":2},{"a":"m10","b":"m11","w":2},{"a":"m10","b":"m13","w":2},{"a":"m11","b":"c2","w":2},
{"a":"c0","b":"c2","w":2},{"a":"c0","b":"c4","w":2},{"a":"c0","b":"c12","w":2},{"a":"c0","b":"c16","w":2},{"a":"c0","b":"c15","w":2},{"a":"c0","b":"c7","w":2},{"a":"c5","b":"c16","w":2},{"a":"c4","b":"c6","w":2},{"a":"c4","b":"c14","w":2},{"a":"c5","b":"r5","w":2},{"a":"c5","b":"r14","w":2},{"a":"c13","b":"c11","w":2},{"a":"c15","b":"m13","w":2},{"a":"c3","b":"c10","w":2},{"a":"c12","b":"c10","w":2},
{"a":"c1","b":"c3","w":2},{"a":"c1","b":"c10","w":2},{"a":"c2","b":"c10","w":2},{"a":"c3","b":"c12","w":2},{"a":"c3","b":"c15","w":2},{"a":"c4","b":"c16","w":2},{"a":"c5","b":"c13","w":2},{"a":"c5","b":"c14","w":2},{"a":"c6","b":"c14","w":2},{"a":"c6","b":"c16","w":2},{"a":"c6","b":"c10","w":2},{"a":"c10","b":"c14","w":2},{"a":"c10","b":"c16","w":2},{"a":"c11","b":"c15","w":2},{"a":"c12","b":"c15","w":2},{"a":"c13","b":"c12","w":2},{"a":"c16","b":"c13","w":2},{"a":"c16","b":"c11","w":2},{"a":"c10","b":"c13","w":2},{"a":"c14","b":"c11","w":2},{"a":"c7","b":"c14","w":2},{"a":"c7","b":"c16","w":2},
{"a":"r0","b":"r3","w":2},{"a":"r0","b":"r5","w":2},{"a":"r0","b":"r6","w":2},{"a":"r0","b":"r10","w":2},{"a":"r6","b":"r1","w":2},{"a":"r6","b":"r7","w":2},{"a":"r7","b":"r13","w":2},{"a":"r13","b":"r12","w":2},{"a":"r13","b":"r14","w":2},{"a":"r9","b":"r10","w":2},{"a":"r8","b":"r9","w":2},{"a":"r10","b":"r13","w":2},{"a":"r14","b":"c0","w":2},{"a":"c13","b":"r12","w":2},
{"a":"r1","b":"r7","w":2},{"a":"r1","b":"r8","w":2},{"a":"r2","b":"r6","w":2},{"a":"r2","b":"r7","w":2},{"a":"r3","b":"r7","w":2},{"a":"r4","b":"r7","w":2},{"a":"r4","b":"r6","w":2},{"a":"r5","b":"r7","w":2},{"a":"r6","b":"r8","w":2},{"a":"r5","b":"r13","w":2},{"a":"r5","b":"r14","w":2},{"a":"r7","b":"r10","w":2},{"a":"r7","b":"r11","w":2},{"a":"r10","b":"r11","w":2},{"a":"r14","b":"r11","w":2},{"a":"r7","b":"r8","w":2},
{"a":"l5","b":"l7","w":2},{"a":"l7","b":"l9","w":2},{"a":"l9","b":"s6","w":2},{"a":"s2","b":"s3","w":2},{"a":"s2","b":"s6","w":2},{"a":"s3","b":"s5","w":2},{"a":"s4","b":"s3","w":2},{"a":"s2","b":"s7","w":2},{"a":"s3","b":"s8","w":2},{"a":"s7","b":"s8","w":2},{"a":"s6","b":"s7","w":2},{"a":"s7","b":"s9","w":2},{"a":"s10","b":"s9","w":2},{"a":"s8","b":"s13","w":2},{"a":"s9","b":"s12","w":2},{"a":"s13","b":"s12","w":2},{"a":"m14","b":"s3","w":2},{"a":"m13","b":"s2","w":2},{"a":"s14","b":"s15","w":2},
{"a":"s1","b":"s3","w":2},{"a":"s2","b":"s4","w":2},{"a":"s2","b":"s8","w":2},{"a":"s6","b":"s8","w":2},{"a":"s3","b":"s7","w":2},{"a":"s8","b":"s16","w":2},{"a":"s7","b":"s16","w":2},{"a":"s9","b":"s13","w":2},{"a":"s3","b":"s9","w":2},{"a":"s4","b":"s7","w":2},
{"a":"a0","b":"a2","w":2},{"a":"a0","b":"a4","w":2},{"a":"a0","b":"a5","w":2},{"a":"a0","b":"a8","w":2},{"a":"a0","b":"a9","w":2},{"a":"a2","b":"a6","w":2},{"a":"a1","b":"a5","w":2},{"a":"a6","b":"a7","w":2},{"a":"a7","b":"a10","w":2},{"a":"a10","b":"a13","w":2},{"a":"s16","b":"a7","w":2},{"a":"s11","b":"a6","w":2},{"a":"a6","b":"a9","w":2},{"a":"a10","b":"p1","w":2},{"a":"a13","b":"p1","w":2},{"a":"a10","b":"p2","w":2},{"a":"p2","b":"a12","w":2},{"a":"p2","b":"a11","w":2},{"a":"a9","b":"p10","w":2},{"a":"a9","b":"p9","w":2},
{"a":"a1","b":"a6","w":2},{"a":"a1","b":"a3","w":2},{"a":"a2","b":"a3","w":2},{"a":"a2","b":"a5","w":2},{"a":"a3","b":"a4","w":2},{"a":"a3","b":"a8","w":2},{"a":"a4","b":"a5","w":2},{"a":"a4","b":"a8","w":2},{"a":"a4","b":"a6","w":2},{"a":"a5","b":"a6","w":2},{"a":"a5","b":"a8","w":2},{"a":"a6","b":"a8","w":2},{"a":"a2","b":"a7","w":2},{"a":"a8","b":"a7","w":2},{"a":"a1","b":"a8","w":2},{"a":"a8","b":"a11","w":2},{"a":"a9","b":"a7","w":2},{"a":"a7","b":"a11","w":2},{"a":"a7","b":"a12","w":2},{"a":"a10","b":"a12","w":2},{"a":"a7","b":"p1","w":2},{"a":"a13","b":"a7","w":2},{"a":"s16","b":"a10","w":2},
{"a":"p2","b":"p1","w":2},{"a":"p2","b":"p3","w":2},{"a":"p5","b":"p7","w":2},{"a":"p3","b":"p6","w":2},{"a":"p1","b":"p4","w":2},{"a":"p4","b":"p6","w":2},{"a":"p4","b":"p5","w":2},{"a":"p8","b":"p5","w":2},{"a":"p8","b":"p2","w":2},{"a":"p6","b":"d0","w":2},{"a":"p5","b":"d0","w":2},
{"a":"p1","b":"p3","w":2},{"a":"p1","b":"p5","w":2},{"a":"p1","b":"p6","w":2},{"a":"p2","b":"p6","w":2},{"a":"p2","b":"p7","w":2},{"a":"p3","b":"p4","w":2},{"a":"p3","b":"p5","w":2},{"a":"p3","b":"p7","w":2},{"a":"p5","b":"p6","w":2},{"a":"p8","b":"p7","w":2},{"a":"a12","b":"p5","w":2},
{"a":"b1","b":"b2","w":2},{"a":"b1","b":"b4","w":2},{"a":"p9","b":"b2","w":2},{"a":"b2","b":"b3","w":2},{"a":"b4","b":"b5","w":2},{"a":"b4","b":"b3","w":2},{"a":"p8","b":"b2","w":2},{"a":"b2","b":"b4","w":2},{"a":"b4","b":"p10","w":2},{"a":"b3","b":"p10","w":2},
{"a":"d0","b":"d2","w":2},{"a":"d1","b":"d7","w":2},{"a":"d2","b":"d3","w":2},{"a":"b6","b":"d7","w":2},{"a":"d1","b":"d2","w":2},{"a":"d1","b":"d3","w":2},{"a":"d1","b":"d4","w":2},{"a":"d1","b":"d5","w":2},{"a":"d1","b":"d6","w":2},{"a":"d2","b":"d4","w":2},{"a":"d2","b":"d5","w":2},{"a":"d2","b":"d6","w":2},{"a":"d2","b":"d7","w":2},{"a":"d3","b":"d6","w":2},{"a":"d3","b":"d7","w":2},{"a":"d4","b":"d6","w":2},{"a":"d4","b":"d7","w":2},{"a":"d5","b":"d7","w":2},{"a":"b6","b":"d6","w":2},{"a":"b6","b":"d1","w":2},{"a":"p7","b":"d1","w":2},{"a":"p7","b":"d2","w":2},{"a":"p7","b":"d3","w":2},{"a":"p6","b":"d3","w":2},
{"a":"t15","b":"t1","w":3},{"a":"t15","b":"t3","w":3},{"a":"t15","b":"t4","w":3},{"a":"t15","b":"t6","w":3},{"a":"t15","b":"t10","w":3},{"a":"t10","b":"t6","w":3},{"a":"t10","b":"t11","w":3},{"a":"t10","b":"t13","w":3},{"a":"t10","b":"t14","w":3},{"a":"t3","b":"t5","w":3},{"a":"t6","b":"t9","w":3},{"a":"t6","b":"t7","w":3},{"a":"t13","b":"m1","w":3},{"a":"c9","b":"c6","w":3},
{"a":"m4","b":"m7","w":3},{"a":"m5","b":"m7","w":3},{"a":"m7","b":"m11","w":3},{"a":"m8","b":"m11","w":3},{"a":"m8","b":"m10","w":3},{"a":"m4","b":"m8","w":3},{"a":"m13","b":"c0","w":3},{"a":"m14","b":"c0","w":3},{"a":"m13","b":"s4","w":3},
{"a":"c0","b":"c1","w":3},{"a":"c0","b":"c3","w":3},{"a":"c0","b":"c5","w":3},{"a":"c0","b":"c6","w":3},{"a":"c0","b":"c10","w":3},{"a":"c0","b":"c11","w":3},{"a":"c0","b":"c13","w":3},{"a":"c0","b":"c14","w":3},{"a":"c11","b":"c12","w":3},
{"a":"r0","b":"r1","w":3},{"a":"r0","b":"r2","w":3},{"a":"r0","b":"r4","w":3},{"a":"r0","b":"r7","w":3},{"a":"r0","b":"r8","w":3},{"a":"r0","b":"r9","w":3},{"a":"r5","b":"r4","w":3},{"a":"r13","b":"r11","w":3},
{"a":"s4","b":"s8","w":3},{"a":"s8","b":"s9","w":3},{"a":"s9","b":"s16","w":3},{"a":"s8","b":"s12","w":3},
{"a":"a0","b":"a1","w":3},{"a":"a0","b":"a3","w":3},{"a":"a0","b":"a6","w":3},{"a":"a0","b":"a7","w":3},{"a":"a13","b":"s16","w":3},{"a":"a7","b":"p2","w":3},{"a":"a6","b":"p2","w":3},{"a":"a3","b":"a5","w":3},{"a":"a3","b":"a6","w":3},
{"a":"p2","b":"p4","w":3},{"a":"p2","b":"p5","w":3},{"a":"p4","b":"p7","w":3},{"a":"p6","b":"p7","w":3},{"a":"p7","b":"d0","w":3},
{"a":"p10","b":"b2","w":3},{"a":"b2","b":"b5","w":3},
{"a":"d0","b":"d1","w":3},{"a":"d0","b":"d3","w":3},{"a":"d0","b":"d4","w":3},{"a":"d0","b":"d5","w":3},{"a":"d0","b":"d6","w":3},{"a":"d0","b":"d7","w":3},{"a":"d0","b":"b6","w":3}
],
"credits":[
{"x":300,"y":1257,"u":1270.5,"ix":293.5,"iy":1263,"by":"Created by","url":"http://metascap.-org"},
{"x":595.7,"y":1257,"u":1270.5,"ix":588,"iy":1263,"by":"Created by","url":"http://metascap.-org"}
],
"letterC":[{"label":"C","x":32.3,"y":966}],
"enrich":[
{"row":1,"code":"val","term":"Valine, leucine and isoleucine degradation"},
{"row":2,"code":"but","term":"Butanoate metabolism"},
{"row":3,"code":"sod","term":"Sodium ion transport"},
{"row":4,"code":"gla","term":"Gland development"},
{"row":5,"code":"pos","term":"Positive regulation of insulin secretion"},
{"row":6,"code":"cel","term":"Cellular response to growth factor stimulus"},
{"row":7,"code":"uro","term":"Urogential system development"},
{"row":8,"code":"reg","term":"Regulation of ion transport"},
{"row":9,"code":"pal","term":"Palate development"},
{"row":10,"code":"amm","term":"Ammonium transport"},
{"row":11,"code":"fgf","term":"FGFR3 ligand binding and activation"},
{"row":12,"code":"neu","term":"Neuron apoptotic process"},
{"row":13,"code":"beh","term":"Behavior"},
{"row":14,"code":"par","term":"Parturition"},
{"row":15,"code":"odo","term":"Odontogenesis"},
{"row":16,"code":"cc","term":"Cell-cell adhesion via plasma-membrane adhesion molecules"},
{"row":17,"code":"rsd","term":"Regulation of sodium ion transport"},
{"row":18,"code":"neg","term":"Negative regulation of neural precursor cell proliferation"},
{"row":19,"code":"pro","term":"Protein localization to cell surface"},
{"row":20,"code":"pep","term":"Peptidyl-tyrosine dephosphorylation"}
],
"bar":[
{"lo":0,"hi":1,"tick":0.35,"label":"10⁻²","k":"a"},
{"lo":1,"hi":2,"tick":1.27,"label":"10⁻³","k":"b"},
{"lo":2,"hi":3,"tick":2.27,"label":"10⁻⁴","k":"c"},
{"lo":3,"hi":4,"tick":3.3,"label":"10⁻⁶","k":"d"},
{"lo":4,"hi":5,"tick":4.3,"label":"10⁻¹⁰","k":"e"},
{"lo":5,"hi":6,"tick":5.3,"label":"10⁻²⁰","k":"f"}
]
},
"vconcat":[
{
"width":774,"height":592,
"layer":[
{"data":{"name":"nodes"},
 "transform":[{"flatten":["h"]},{"lookup":"h","from":{"data":{"name":"nodes"},"key":"code","fields":["x","y"]},"as":["hx","hy"]}],
 "mark":{"type":"rule","color":"#cfcfcf","strokeWidth":1.1},
 "encoding":{"x":{"field":"x","type":"quantitative","axis":null,"scale":{"domain":[0,774]}},"y":{"field":"y","type":"quantitative","axis":null,"scale":{"domain":[592,0]}},"x2":{"field":"hx"},"y2":{"field":"hy"}}},
{"data":{"name":"nodes"},
 "mark":{"type":"point","filled":true,"opacity":1},
 "encoding":{"x":{"field":"x","type":"quantitative","axis":null,"scale":{"domain":[0,774]}},"y":{"field":"y","type":"quantitative","axis":null,"scale":{"domain":[592,0]}},
 "color":{"field":"type","type":"nominal","legend":null,"scale":{"domain":["lncRNA","miRNA","mRNA"],"range":["#5fae2b","#e8242a","#66c7d8"]}},
 "shape":{"field":"type","type":"nominal","legend":null,"scale":{"domain":["lncRNA","miRNA","mRNA"],"range":["diamond","M-0.7,-1H0.7Q1,-1,1,-0.7V0.7Q1,1,0.7,1H-0.7Q-1,1,-1,0.7V-0.7Q-1,-1,-0.7,-1Z","circle"]}},
 "size":{"field":"type","type":"nominal","legend":null,"scale":{"type":"ordinal","domain":["lncRNA","miRNA","mRNA"],"range":[361,900,225]}}}},
{"data":{"name":"nodes"},
 "mark":{"type":"text","font":"Liberation Sans","fontSize":6.2,"color":"#222","baseline":"middle","align":"center"},
 "encoding":{"x":{"field":"x","type":"quantitative","axis":null,"scale":{"domain":[0,774]}},"y":{"field":"y","type":"quantitative","axis":null,"scale":{"domain":[592,0]}},"text":{"field":"name"}}},
{"data":{"name":"keyA"},
 "mark":{"type":"point","filled":true,"opacity":1,"size":190},
 "encoding":{"x":{"field":"x","type":"quantitative","axis":null,"scale":{"domain":[0,774]}},"y":{"field":"y","type":"quantitative","axis":null,"scale":{"domain":[592,0]}},
 "color":{"field":"type","type":"nominal","legend":null,"scale":{"domain":["lncRNA","miRNA","mRNA"],"range":["#5fae2b","#e8242a","#66c7d8"]}},
 "shape":{"field":"type","type":"nominal","legend":null,"scale":{"domain":["lncRNA","miRNA","mRNA"],"range":["diamond","M-0.7,-1H0.7Q1,-1,1,-0.7V0.7Q1,1,0.7,1H-0.7Q-1,1,-1,0.7V-0.7Q-1,-1,-0.7,-1Z","circle"]}}}},
{"data":{"name":"keyA"},
 "mark":{"type":"text","font":"Liberation Sans","fontSize":10.5,"color":"#222","align":"left","baseline":"middle","dx":15},
 "encoding":{"x":{"field":"x","type":"quantitative","axis":null,"scale":{"domain":[0,774]}},"y":{"field":"y","type":"quantitative","axis":null,"scale":{"domain":[592,0]}},"text":{"field":"type"}}},
{"data":{"name":"letters"},
 "mark":{"type":"text","font":"Liberation Sans","fontSize":20,"color":"#111","align":"center","baseline":"middle"},
 "encoding":{"x":{"field":"x","type":"quantitative","axis":null,"scale":{"domain":[0,774]}},"y":{"field":"y","type":"quantitative","axis":null,"scale":{"domain":[592,0]}},"text":{"field":"label"}}}
]
},
{
"width":774,"height":313,
"resolve":{"axis":{"x":"independent"}},
"layer":[
{"data":{"name":"terms"},
 "mark":{"type":"bar","stroke":"#4a4636","strokeWidth":1},
 "encoding":{
 "x":{"field":"logp","type":"quantitative","title":"-log10(P)",
  "scale":{"domain":[0,7],"range":[29.5,434]},
  "axis":{"values":[0,1,2,3,4,5,6,7],"grid":true,"gridColor":"#cfcfcf","gridWidth":1.2,"domain":false,"ticks":false,"labelFont":"Liberation Sans","labelFontSize":10,"labelColor":"#222","labelPadding":6,"titleFont":"Liberation Sans","titleFontSize":10,"titleFontWeight":"normal","titleColor":"#222","titlePadding":4,"labelFlush":false}},
 "y":{"field":"term","type":"nominal","sort":null,"axis":null,"scale":{"paddingInner":0.154,"paddingOuter":0.5}},
 "color":{"field":"cls","type":"nominal","legend":null,"scale":{"domain":["1e-6","1e-4","1e-3"],"range":["#f59b30","#fcc150","#fde18d"]}}}},
{"data":{"name":"terms"},
 "mark":{"type":"text","font":"Liberation Sans","fontSize":9,"color":"#222","align":"left","baseline":"middle","dx":9},
 "encoding":{
 "x":{"datum":7,"type":"quantitative","scale":{"domain":[0,7],"range":[29.5,434]},"axis":null},
 "y":{"field":"term","type":"nominal","sort":null,"axis":null,"scale":{"paddingInner":0.154,"paddingOuter":0.5}},
 "text":{"field":"term"}}},
{"data":{"values":[{"frame":1}]},
 "mark":{"type":"rect","fill":null,"fillOpacity":0,"stroke":"#555","strokeWidth":1.3},
 "encoding":{
 "x":{"datum":0,"type":"quantitative","scale":{"domain":[0,7],"range":[29.5,434]},
  "axis":{"orient":"top","values":[1,2,3,4,5,6],"labels":false,"title":null,"domain":false,"grid":false,"tickSize":-3,"tickColor":"#777"}},
 "x2":{"datum":7}}}
]
},
{
"width":774,"height":607,
"resolve":{"scale":{"x":"independent","y":"independent","color":"independent","size":"independent","strokeWidth":"independent"}},
"layer":[
{"data":{"name":"cedges"},
 "transform":[{"lookup":"a","from":{"data":{"name":"cnodes"},"key":"id","fields":["x","y"]},"as":["ax","ay"]},{"lookup":"b","from":{"data":{"name":"cnodes"},"key":"id","fields":["x","y"]},"as":["bx","by"]}],
 "mark":{"type":"rule"},
 "encoding":{"x":{"field":"ax","type":"quantitative","axis":null,"scale":{"domain":[112,663],"range":[57.3,241]}},"y":{"field":"ay","type":"quantitative","axis":null,"scale":{"domain":[68,950],"range":[67.7,361.7]}},"x2":{"field":"bx"},"y2":{"field":"by"},
 "color":{"field":"w","type":"ordinal","legend":null,"scale":{"domain":[1,2,3],"range":["#c3b5de","#8a74bb","#4f3593"]}},
 "strokeWidth":{"field":"w","type":"quantitative","legend":null,"scale":{"domain":[1,3],"range":[0.6,1.3]}}}},
{"data":{"name":"cnodes"},
 "mark":{"type":"point","filled":true,"opacity":1,"stroke":"#4f5f70","strokeWidth":0.3},
 "encoding":{"x":{"field":"x","type":"quantitative","axis":null,"scale":{"domain":[112,663],"range":[57.3,241]}},"y":{"field":"y","type":"quantitative","axis":null,"scale":{"domain":[68,950],"range":[67.7,361.7]}},
 "color":{"field":"cat","type":"nominal","legend":null,"scale":{"domain":["val","but","sod","gla","pos","cel","uro","reg","pal","amm","fgf","neu","beh","par","odo","cc","rsd","neg","pro","pep","pb","o"],"range":["#c8102e","#1f5fa8","#2e8b57","#6a2c91","#e8701b","#f2e21b","#8a4a26","#cf6fae","#7f7f7f","#5fb5c0","#f5f2a0","#a8a0d0","#e0645a","#5a9bd0","#f0923c","#a9cf4a","#f5b5d5","#c8c8c8","#a05ca8","#c6e6c0","#cfe7ef","#6f9fb0"]}},
 "size":{"field":"n","type":"quantitative","legend":null,"scale":{"domain":[0.5,4],"range":[2,56]}}}},
{"data":{"name":"cedges"},
 "transform":[{"lookup":"a","from":{"data":{"name":"cnodes"},"key":"id","fields":["x","y"]},"as":["ax","ay"]},{"lookup":"b","from":{"data":{"name":"cnodes"},"key":"id","fields":["x","y"]},"as":["bx","by"]}],
 "mark":{"type":"rule"},
 "encoding":{"x":{"field":"ax","type":"quantitative","axis":null,"scale":{"domain":[112,663],"range":[366.7,602.3]}},"y":{"field":"ay","type":"quantitative","axis":null,"scale":{"domain":[68,950],"range":[72.7,358.3]}},"x2":{"field":"bx"},"y2":{"field":"by"},
 "color":{"field":"w","type":"ordinal","legend":null,"scale":{"domain":[1,2,3],"range":["#c3b5de","#8a74bb","#4f3593"]}},
 "strokeWidth":{"field":"w","type":"quantitative","legend":null,"scale":{"domain":[1,3],"range":[0.6,1.3]}}}},
{"data":{"name":"cnodes"},
 "mark":{"type":"point","filled":true,"opacity":1,"stroke":"#4f5f70","strokeWidth":0.4},
 "encoding":{"x":{"field":"x","type":"quantitative","axis":null,"scale":{"domain":[112,663],"range":[366.7,602.3]}},"y":{"field":"y","type":"quantitative","axis":null,"scale":{"domain":[68,950],"range":[72.7,358.3]}},
 "color":{"field":"cls","type":"nominal","legend":null,"scale":{"domain":["s","m","p","w","o"],"range":["#eea43a","#c9b95c","#e6e9a8","#ffffff","#8fb0a8"]}},
 "size":{"field":"n","type":"quantitative","legend":null,"scale":{"domain":[0.5,4],"range":[2,56]}}}},
{"data":{"name":"credits"},
 "mark":{"type":"point","filled":true,"opacity":1,"color":"#3a7ec0","size":110,"shape":"M-1,-1L-0.7,-1L-0.1,1L-0.4,1ZM-0.1,-1L-0.4,-1L-1,1L-0.7,1ZM0.1,-1L0.4,-1L1,1L0.7,1ZM1,-1L0.7,-1L0.1,1L0.4,1Z"},
 "encoding":{"x":{"field":"ix","type":"quantitative","axis":null,"scale":{"domain":[0,774]}},"y":{"field":"iy","type":"quantitative","axis":null,"scale":{"domain":[1512,905]}}}},
{"data":{"name":"credits"},
 "mark":{"type":"text","font":"Liberation Sans","fontSize":9.5,"color":"#222","align":"left","baseline":"middle"},
 "encoding":{"x":{"field":"x","type":"quantitative","axis":null,"scale":{"domain":[0,774]}},"y":{"field":"y","type":"quantitative","axis":null,"scale":{"domain":[1512,905]}},"text":{"field":"by"}}},
{"data":{"name":"credits"},
 "mark":{"type":"text","font":"Liberation Sans","fontSize":9.5,"color":"#e0202a","align":"left","baseline":"middle"},
 "encoding":{"x":{"field":"x","type":"quantitative","axis":null,"scale":{"domain":[0,774]}},"y":{"field":"u","type":"quantitative","axis":null,"scale":{"domain":[1512,905]}},"text":{"field":"url"}}},
{"data":{"name":"letterC"},
 "mark":{"type":"text","font":"Liberation Sans","fontSize":20,"color":"#111","align":"center","baseline":"middle"},
 "encoding":{"x":{"field":"x","type":"quantitative","axis":null,"scale":{"domain":[0,774]}},"y":{"field":"y","type":"quantitative","axis":null,"scale":{"domain":[1512,905]}},"text":{"field":"label"}}},
{"data":{"name":"enrich"},
 "mark":{"type":"point","filled":true,"opacity":1,"shape":"square","size":30},
 "encoding":{"x":{"datum":0,"type":"quantitative","axis":null,"scale":{"domain":[0,1],"range":[208.3,216]}},"y":{"field":"row","type":"quantitative","axis":null,"scale":{"domain":[1,20],"range":[388.3,578.3]}},
 "color":{"field":"code","type":"nominal","legend":null,"scale":{"domain":["val","but","sod","gla","pos","cel","uro","reg","pal","amm","fgf","neu","beh","par","odo","cc","rsd","neg","pro","pep"],"range":["#d0142c","#1f5fa8","#2e8b3e","#6a2c91","#e0641f","#f2e21b","#8a3b1a","#e0559a","#808080","#5fb5b0","#f5f2a0","#a8a0d0","#e0605a","#5a9bd0","#f0923c","#8fc04a","#f5b5d5","#c8c8c8","#a05ca8","#b8dcb0"]}}}},
{"data":{"name":"enrich"},
 "mark":{"type":"text","font":"Liberation Sans","fontSize":9,"color":"#222","align":"left","baseline":"middle"},
 "encoding":{"x":{"datum":1,"type":"quantitative","axis":null,"scale":{"domain":[0,1],"range":[208.3,216]}},"y":{"field":"row","type":"quantitative","axis":null,"scale":{"domain":[1,20],"range":[388.3,578.3]}},"text":{"field":"term"}}},
{"data":{"name":"bar"},
 "mark":{"type":"rect","stroke":"#8a8468","strokeWidth":1},
 "encoding":{"x":{"datum":0,"type":"quantitative","axis":null,"scale":{"domain":[0,1],"range":[659.3,686]}},"x2":{"datum":1},"y":{"field":"lo","type":"quantitative","axis":null,"scale":{"domain":[0,6],"range":[383.3,537.3]}},"y2":{"field":"hi"},
 "color":{"field":"k","type":"nominal","legend":null,"scale":{"domain":["a","b","c","d","e","f"],"range":["#fbf6c8","#fdd46c","#f9ae35","#ef7c1f","#cd4216","#7d1a10"]}}}},
{"data":{"name":"bar"},
 "mark":{"type":"text","font":"Liberation Sans","fontSize":9,"color":"#222","align":"left","baseline":"middle","dx":6},
 "encoding":{"x":{"datum":1,"type":"quantitative","axis":null,"scale":{"domain":[0,1],"range":[659.3,686]}},"y":{"field":"tick","type":"quantitative","axis":null,"scale":{"domain":[0,6],"range":[383.3,537.3]}},"text":{"field":"label"}}}
]
}
]
}
